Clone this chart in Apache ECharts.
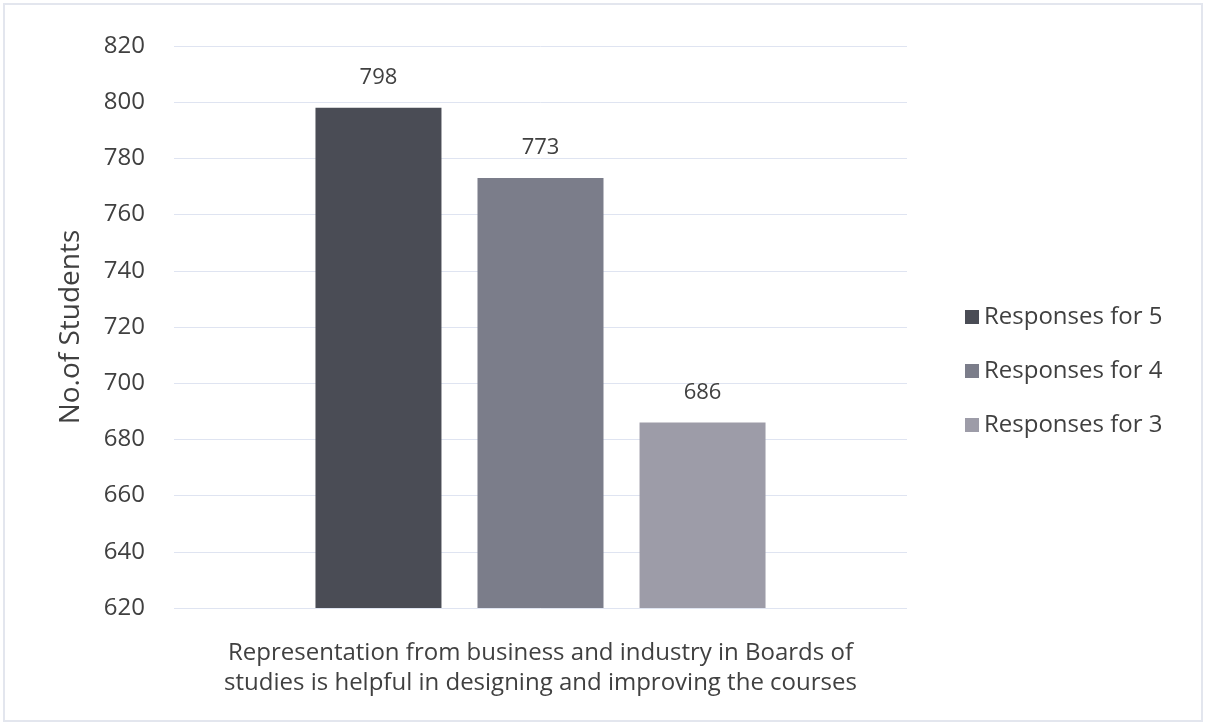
<!DOCTYPE html>
<html>
<head>
<meta charset="utf-8">
<script src="https://cdn.jsdelivr.net/npm/echarts@6/dist/echarts.min.js"></script>
<style>
  html, body { margin: 0; padding: 0; background: #fff; }
  #chart { width: 1208px; height: 727px; }
</style>
</head>
<body>
<div id="chart"></div>
<script>
var categories = ["Representation from business and industry in Boards of\nstudies is helpful in designing and improving the courses"];
var seriesNames = ["Responses for 5", "Responses for 4", "Responses for 3"];
var seriesValues = [[798], [773], [686]];
var seriesColors = ["#4a4c55", "#7b7d8a", "#9d9ca8"];

var font = "'Open Sans', 'Noto Sans', sans-serif";

var chart = echarts.init(document.getElementById("chart"));
var option = {
  backgroundColor: "#fff",
  animation: false,
  textStyle: { fontFamily: font },
  graphic: [{
    type: "rect",
    shape: { x: 4, y: 4, width: 1198, height: 717 },
    style: { fill: "none", stroke: "#e3e6ee", lineWidth: 2 }
  }],
  grid: { left: 174, right: 301, top: 46, bottom: 119 },
  legend: {
    orient: "vertical",
    left: 960,
    top: 300,
    itemGap: 30,
    itemWidth: 14,
    itemHeight: 14,
    icon: "rect",
    textStyle: { fontSize: 24, color: "#404040", fontFamily: font },
    data: seriesNames
  },
  xAxis: {
    type: "category",
    data: categories,
    axisLine: { show: false },
    axisTick: { show: false },
    axisLabel: { fontSize: 24, color: "#404040", lineHeight: 30, margin: 30, fontFamily: font }
  },
  yAxis: {
    type: "value",
    min: 620,
    max: 820,
    interval: 20,
    name: "No.of Students",
    nameLocation: "middle",
    nameGap: 89,
    nameTextStyle: { fontSize: 28, color: "#404040", fontFamily: font },
    axisLine: { show: false },
    axisTick: { show: false },
    axisLabel: { fontSize: 24, color: "#404040", margin: 29, fontFamily: font },
    splitLine: { lineStyle: { color: "#dfe4f1", width: 1 } }
  },
  series: seriesNames.map(function (name, i) {
    return {
      name: name,
      type: "bar",
      data: seriesValues[i],
      barGap: "28.6%",
      barCategoryGap: "38.6%",
      itemStyle: { color: seriesColors[i] },
      label: {
        show: true,
        position: "top",
        distance: 19,
        fontSize: 22,
        color: "#404040",
        fontFamily: font
      }
    };
  })
};
chart.setOption(option);
</script>
</body>
</html>
